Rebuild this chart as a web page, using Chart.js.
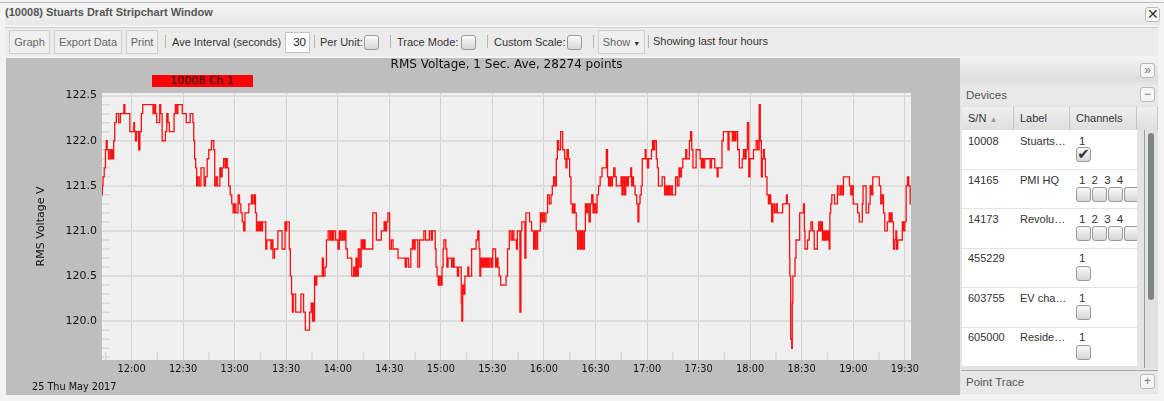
<!DOCTYPE html>
<html>
<head>
<meta charset="utf-8">
<title>Stripchart</title>
<script src="https://cdn.jsdelivr.net/npm/chart.js@4/dist/chart.umd.min.js"></script>
<style>
html, body { margin: 0; padding: 0; background: #f3f3f3; overflow: hidden; }
body { width: 1164px; height: 401px; position: relative; font: 11px "Liberation Sans", Arial, sans-serif; color: #333; }
.a { position: absolute; white-space: nowrap; }
.top { left: 0; top: 2px; width: 1164px; height: 1px; background: #bdbdbd; }
.bar { left: 5px; top: 4px; width: 1155px; height: 21px; background: linear-gradient(#f6f6f6, #e8e8e8); }
.caption { left: 5px; top: 6px; font-weight: bold; font-size: 11px; color: #555; }
.tools { left: 5px; top: 27px; width: 1153px; height: 28px; background: #ebebeb; border-top: 1px solid #d0d0d0; }
.btn { height: 22px; line-height: 22px; top: 30px; background: #efefef; border: 1px solid #cfcfcf; color: #666; text-align: center; box-sizing: content-box; }
.lbl { top: 36px; color: #333; }
.sep { top: 35px; width: 1px; height: 13px; background: #b5b5b5; }
.box { width: 13px; height: 13px; border: 1px solid #9a9a9a; border-radius: 3px; background: linear-gradient(#fafafa, #d8d8d8); }
.plotbg { left: 6px; top: 58px; width: 954px; height: 337px; background: #bebebe; }
#swatch { left: 152px; top: 75px; width: 101px; height: 12px; line-height: 12px; background: #ff0000; color: #111; text-align: center; font: 11px/12px "DejaVu Sans", sans-serif; }
#datestamp { left: 32px; top: 381px; font: 9.7px "DejaVu Sans", sans-serif; color: #111; }
canvas { position: absolute; left: 7px; top: 57px; }
.panel { left: 960px; top: 58px; width: 198px; height: 336px; background: #e4e4e4; }
.phead { left: 960px; top: 58px; width: 198px; height: 24px; background: linear-gradient(#f2f2f2, #dcdcdc); }
.hd { left: 961px; width: 197px; background: #e8e8e8; height: 22px; }
.hdt { left: 966px; color: #555; font-size: 11.5px; }
.ic { width: 13px; height: 13px; border: 1px solid #b9b9b9; border-radius: 3px; background: #f6f6f6; color: #777; text-align: center; line-height: 12px; font-size: 12px; }
.th { top: 107px; height: 23px; line-height: 23px; background: linear-gradient(#f0f0f0, #dedede); border-right: 1px solid #c6c6c6; padding-left: 6px; box-sizing: border-box; color: #333; }
.row { left: 962px; width: 175px; background: #fff; }
.cell { color: #333; }
.chn { color: #333; font-size: 11.5px; }
.scroll { left: 1144px; top: 130px; width: 14px; height: 238px; background: #e2e2e2; border-left: 1px solid #9a9a9a; box-sizing: border-box; }
.thumb { left: 1148px; top: 133px; width: 6px; height: 167px; background: #7f8583; border-radius: 3px; }
.cb { width: 13px; height: 13px; border: 1px solid #9a9a9a; border-radius: 3px; background: linear-gradient(#f8f8f8, #d6d6d6); }
</style>
</head>
<body>
<div class="a top"></div>
<div class="a bar"></div>
<div class="a caption">(10008) Stuarts Draft Stripchart Window</div>
<div class="a ic" style="left:1145px;top:7px;color:#333;font-size:14px">&#10005;</div>
<div class="a tools"></div>
<div class="a btn" style="left:9px;width:39px">Graph</div>
<div class="a btn" style="left:54px;width:66px">Export Data</div>
<div class="a btn" style="left:126px;width:30px">Print</div>
<div class="a sep" style="left:165px"></div>
<div class="a lbl" style="left:172px">Ave Interval (seconds)</div>
<div class="a" style="left:285px;top:32px;width:23px;height:19px;line-height:19px;background:#fff;border:1px solid #c4c4c4;text-align:right;color:#222;font-size:11.5px"><span style="padding-right:3px">30</span></div>
<div class="a sep" style="left:314px"></div>
<div class="a lbl" style="left:320px">Per Unit:</div>
<div class="a box" style="left:364px;top:35px"></div>
<div class="a sep" style="left:390px"></div>
<div class="a lbl" style="left:397px">Trace Mode:</div>
<div class="a box" style="left:461px;top:35px"></div>
<div class="a sep" style="left:487px"></div>
<div class="a lbl" style="left:494px">Custom Scale:</div>
<div class="a box" style="left:567px;top:35px"></div>
<div class="a sep" style="left:593px"></div>
<div class="a btn" style="left:598px;width:45px">Show <span style="font-size:7px;color:#333">&#9660;</span></div>
<div class="a sep" style="left:648px"></div>
<div class="a lbl" style="left:653px;top:35px">Showing last four hours</div>

<div class="a plotbg"></div>
<canvas id="chart" width="951" height="338"></canvas>
<div class="a" id="swatch">10008 Ch 1</div>
<div class="a" id="datestamp">25 Thu May 2017</div>

<div class="a panel"></div>
<div class="a phead"></div>
<div class="a ic" style="left:1140px;top:63px">&raquo;</div>
<div class="a hd" style="top:84px"></div>
<div class="a hdt" style="top:89px">Devices</div>
<div class="a ic" style="left:1140px;top:87px">&minus;</div>
<div class="a th" style="left:962px;width:52px">S/N <span style="font-size:8px;color:#999">&#9650;</span></div>
<div class="a th" style="left:1015px;width:55px;padding-left:5px">Label</div>
<div class="a th" style="left:1070px;width:67px">Channels</div>
<div class="a th" style="left:1137px;width:21px"></div>

<div class="a row" style="top:130px;height:39px"></div>
<div class="a cell" style="left:968px;top:135px">10008</div>
<div class="a cell" style="left:1020px;top:135px">Stuarts&hellip;</div>
<div class="a chn" style="left:1079px;top:135px">1</div>
<div class="a cb" style="left:1076px;top:147px;font:bold 15px/13px 'DejaVu Sans';color:#333;text-align:center">&#10004;</div>

<div class="a row" style="top:170px;height:38px"></div>
<div class="a cell" style="left:968px;top:174px">14165</div>
<div class="a cell" style="left:1020px;top:174px">PMI HQ</div>
<div class="a chn" style="left:1079px;top:174px;word-spacing:3px">1 2 3 4</div>
<div class="a cb" style="left:1076px;top:187px"></div>
<div class="a cb" style="left:1092px;top:187px"></div>
<div class="a cb" style="left:1108px;top:187px"></div>
<div class="a cb" style="left:1124px;top:187px;width:12px;border-right:0;border-radius:3px 0 0 3px"></div>

<div class="a row" style="top:209px;height:39px"></div>
<div class="a cell" style="left:968px;top:213px">14173</div>
<div class="a cell" style="left:1020px;top:213px">Revolu&hellip;</div>
<div class="a chn" style="left:1079px;top:213px;word-spacing:3px">1 2 3 4</div>
<div class="a cb" style="left:1076px;top:226px"></div>
<div class="a cb" style="left:1092px;top:226px"></div>
<div class="a cb" style="left:1108px;top:226px"></div>
<div class="a cb" style="left:1124px;top:226px;width:12px;border-right:0;border-radius:3px 0 0 3px"></div>

<div class="a row" style="top:249px;height:38px"></div>
<div class="a cell" style="left:968px;top:252px">455229</div>
<div class="a chn" style="left:1079px;top:252px">1</div>
<div class="a cb" style="left:1076px;top:266px"></div>

<div class="a row" style="top:288px;height:39px"></div>
<div class="a cell" style="left:968px;top:292px">603755</div>
<div class="a cell" style="left:1020px;top:292px">EV cha&hellip;</div>
<div class="a chn" style="left:1079px;top:292px">1</div>
<div class="a cb" style="left:1076px;top:305px"></div>

<div class="a row" style="top:328px;height:38px"></div>
<div class="a cell" style="left:968px;top:331px">605000</div>
<div class="a cell" style="left:1020px;top:331px">Reside&hellip;</div>
<div class="a chn" style="left:1079px;top:331px">1</div>
<div class="a cb" style="left:1076px;top:345px"></div>

<div class="a scroll"></div>
<div class="a thumb"></div>
<div class="a hd" style="top:370px;border-top:1px solid #aaa"></div>
<div class="a hdt" style="top:376px">Point Trace</div>
<div class="a ic" style="left:1140px;top:374px">+</div>

<script>
const yTicks = [120, 120.5, 121, 121.5, 122, 122.5];
const yMinorTicks = [119.6, 119.7, 119.8, 119.9, 120.1, 120.2, 120.3, 120.4, 120.6, 120.7, 120.8, 120.9, 121.1, 121.2, 121.3, 121.4, 121.6, 121.7, 121.8, 121.9, 122.1, 122.2, 122.3, 122.4];
const xTicks = [0, 30, 60, 90, 120, 150, 180, 210, 240, 270, 300, 330, 360, 390, 420, 450];
const xMinorTicks = [-15, 15, 45, 75, 105, 135, 165, 195, 225, 255, 285, 315, 345, 375, 405, 435];
const xTickLabels = ['12:00', '12:30', '13:00', '13:30', '14:00', '14:30', '15:00', '15:30', '16:00', '16:30', '17:00', '17:30', '18:00', '18:30', '19:00', '19:30'];

// minutes after 12:00
const minutes = [
  -17.2, -16.8, -16.4, -15.4, -15, -14.5, -13.9, -12.9, -12.1, -11.6, -11, -10.6, -10.2, -9.4, -8.3, -6.7, -6.3, -4.8, -4.2, -3.6,
  -1.3, -0.7, 1.1, 1.5, 2, 2.6, 3.2, 3.8, 4.4, 5.3, 6.1, 6.9, 12.3, 12.7, 13.7, 14.3, 15, 16.2, 16.6, 17.4,
  18.2, 19.3, 20.1, 20.9, 21.6, 22.4, 24.4, 25.1, 25.9, 26.7, 27.2, 29.2, 29.8, 31.6, 32.1, 33.7, 34.5, 35.4, 36, 36.4,
  37, 37.6, 38.2, 38.9, 39.9, 40.9, 41.8, 42.6, 43.4, 44.6, 45.3, 47.7, 48, 48.8, 49.6, 50.4, 51.2, 51.6, 52.3, 53.1,
  54.1, 54.9, 55.4, 56, 57, 57.8,
  58.8, 59.4, 60.4, 61, 61.7, 62.3, 63.3, 63.9, 64.9, 65.6, 66.4, 68, 68.5, 69.5, 70.1, 71.1, 71.8, 72.4, 73, 74,
  74.6, 75.3, 75.9, 76.5, 77.9, 78.3, 79.2, 80.8, 81.4, 81.9, 82.7, 83.7, 84.7, 85.6, 87.2, 88, 88.9, 89.7, 90.1, 90.5,
  91.5, 92, 92.8, 93.4, 93.8, 94.4, 95.1, 95.9, 98.3, 98.8, 99.6, 100.6, 101.6, 103.1, 104.1, 105, 105.6, 106, 106.4, 106.6,
  107.6, 108, 110.9, 111.1, 112.2, 113, 113.8, 115, 115.7, 116.5, 117.3, 117.9, 119.6, 120.6, 121.2, 122, 122.9, 123.5, 124.5, 125,
  126.2, 127.4, 128.9, 129.7, 130.3, 130.9, 131.5, 132.4, 133.2, 134, 134.8, 135.5, 136.3, 140, 140.8, 142, 142.9, 144.9, 145.8, 146.8,
  147.2, 148.2, 148.7, 149.7, 150.7, 151.7, 152.6, 154.6, 155.5, 158.8, 159.6, 160.4, 161.9, 163.1, 163.9, 164.7, 165.4, 166.2, 167, 168.2,
  169.7, 170.5, 171.7, 173, 173.6, 174, 174.8, 175.3, 176.5, 176.9, 177.5, 178.1, 178.8, 179.6, 180.4, 181, 181.6, 181.9, 182.7, 183.1,
  183.9, 184.5, 185.8, 186.6, 187.4, 188, 189.3, 189.9, 190.7, 191.7, 192, 192.4, 193, 193.6, 194.4, 195.5, 195.9, 196.7, 197.5, 198.3,
  200, 201, 201.9, 202.5, 202.9, 203.5, 204.1, 204.9, 205.4, 206, 206.8, 207.4, 208, 209.1, 209.7, 210.7, 211.5, 212.2, 213, 213.6,
  214.2, 215.5, 217.5, 218.4, 219.2, 220.4, 221.2, 222.1, 222.9, 223.7, 224.3, 224.7, 225.8, 226.2, 227, 227.2, 228.5, 229.3, 229.7, 231.3,
  232, 233.6, 234.4, 235.1, 235.9, 236.7, 237.5, 238.3, 239, 239.8, 240.6, 241.7, 242.5, 243.7, 244.5, 245.2, 246, 246.8, 247.6, 248,
  249.1, 250.3, 251.5, 252.6, 253, 253.8, 254.6, 255.3, 256.1, 256.9, 257.7, 258.4, 259.2, 260, 260.8, 261.6, 262.3, 263.1, 263.9, 264.3,
  265, 265.8, 266.6, 267.4, 268.2, 268.9, 269.7, 270.5, 271.3, 272.2, 273.2, 274.4, 275.9, 276.7, 277.3, 277.9, 278.6, 279.4, 280.2, 281,
  281.7, 282.5, 284.5, 285.2, 285.6, 286.4, 287.2, 288, 288.7, 289.5, 290.3, 290.7, 291.3, 291.8, 292.4, 293.6, 294.4, 295, 295.5, 296.3,
  296.9, 297.5, 298.8, 299, 299.8, 300.6, 301.2, 302.3, 302.9, 303.5, 304.1, 304.7, 305.2, 305.6, 306.4, 306.8, 308.5, 309.1, 309.9, 310.5,
  311.5, 312, 312.8, 313.4, 314.4, 315, 316.3, 316.9, 318.3, 318.8, 319.6, 320.4, 321.2, 322.3, 322.7, 323.5, 324.3, 325, 325.6, 326.4,
  327, 328.2, 328.9, 330.5, 331.3, 331.8, 332.4, 333.2, 334, 336.3, 337.1, 337.9, 339, 339.8, 340.6, 341, 341.7, 343.3, 343.9, 344.9,
  346.8, 347.4, 348, 349.3, 349.9, 350.7, 351.3, 352.2, 353.2, 354.2, 355.1, 355.7, 356.5, 357.3, 358, 358.8, 359.6, 360.2, 361.6, 362.3,
  363.1, 363.9, 364.9, 365.6, 366.2, 366.8, 367.4, 368, 368.5, 369.3, 370.3, 370.9, 371.7, 372.2, 372.8, 373.6, 374.6, 375.4, 376.2, 378.5,
  379.3, 380.9, 381.3, 382, 382.8, 382.9, 383, 383.2, 384, 384.4, 384.6, 385.1, 385.9, 386.3, 387.1, 388.6, 389, 390.6, 391.4, 391.7,
  392.1, 392.9, 393.9, 394.9, 395.8, 396.8, 397.8, 398.7, 399.5, 400.3, 401.1, 401.7, 402.4, 403, 403.8, 404.4, 405.1, 405.7, 406.3, 406.5,
  407.3, 407.7, 408.8, 409.4, 410.4, 411.2, 412.3, 413.1, 413.9, 414.7, 417.4, 418.2, 418.9, 419.5, 420.5, 422, 423, 424, 425, 425.5,
  425.9, 427.1, 427.9, 428.6, 429.4, 430.2, 431, 431.7, 434.7, 435.6, 436.4, 437.2, 438, 438.7, 439.5, 440.1, 440.7, 441.1, 441.8, 442.2,
  443, 443.8, 444.6, 445, 445.5, 446.3, 446.9, 448.3, 448.8, 449.6, 450.4, 451.2, 451.9, 452.7, 453.5
];

const voltage = [
  121.4, 121.5, 121.6, 121.7, 121.9, 122, 121.9, 121.8, 121.9, 121.8, 121.9, 121.8, 122, 122.2, 122.3, 122.2, 122.3, 122.3, 122.4, 122.3,
  122.3, 122.1, 122.1, 122.2, 122.1, 122, 122.1, 122.1, 121.9, 122.1, 122.3, 122.4, 122.4, 122.3, 122.4, 122.3, 122.2, 122.2, 122.4, 122.3,
  122, 122, 122.1, 122.3, 122.2, 122.1, 122.1, 122.3, 122.4, 122.3, 122.4, 122.4, 122.3, 122.3, 122.2, 122.2, 122.3, 122.3, 122.2, 122,
  121.8, 121.7, 121.5, 121.6, 121.5, 121.7, 121.7, 121.5, 121.6, 121.8, 121.9, 122, 121.9, 121.5, 121.6, 121.5, 121.5, 121.7, 121.6, 121.7,
  121.8, 121.7, 121.8, 121.7, 121.5, 121.4,
  121.3, 121.2, 121.3, 121.2, 121.2, 121.4, 121.3, 121.2, 121.1, 121, 121.2, 121.2, 121.3, 121.3, 121.4, 121.3, 121.4, 121.2, 121, 121.1,
  121, 121.1, 121, 121.1, 121.1, 120.8, 120.9, 120.9, 120.8, 120.9, 120.7, 120.8, 120.8, 121, 121, 120.8, 120.8, 121.1, 121, 121.1,
  121.1, 120.8, 120.5, 120.3, 120.1, 120.3, 120.3, 120.1, 120.1, 120.3, 120.3, 120.1, 119.9, 119.9, 120.1, 120.2, 120, 120.2, 120, 120.5,
  120.4, 120.5, 120.5, 120.7, 120.5, 120.6, 120.9, 121, 120.9, 121, 120.9, 121, 120.9, 120.8, 121, 120.9, 121, 120.9, 121, 120.8,
  120.7, 120.7, 120.5, 120.6, 120.5, 120.7, 120.5, 120.8, 120.6, 120.9, 120.8, 120.9, 120.8, 120.8, 121.2, 121.2, 120.9, 120.9, 121, 121,
  121.1, 121, 121.1, 121.2, 120.8, 120.9, 120.8, 120.8, 120.7, 120.7, 120.6, 120.7, 120.6, 120.8, 120.9, 120.8, 120.9, 120.9, 120.6, 120.9,
  120.9, 121, 120.9, 120.9, 121, 121, 120.9, 121, 121, 120.8, 120.6, 120.5, 120.4, 120.5, 120.4, 120.6, 120.8, 120.9, 120.9, 120.8,
  120.6, 120.7, 120.7, 120.6, 120.7, 120.6, 120.6, 120.5, 120.6, 120.6, 120.2, 120, 120.4, 120.3, 120.5, 120.5, 120.6, 120.5, 120.5, 120.8,
  120.8, 120.9, 121, 120.8, 120.5, 120.7, 120.6, 120.7, 120.6, 120.7, 120.6, 120.7, 120.6, 120.7, 120.6, 120.8, 120.8, 120.6, 120.7, 120.6,
  120.5, 120.4, 120.4, 120.5, 120.8, 121, 120.9, 121, 120.9, 120.9, 120.8, 121, 121, 120.1, 121, 121.1, 121.1, 120.7, 121.2, 121.2,
  121.1, 121, 120.8, 121, 120.8, 121, 121, 121.2, 121.1, 121.2, 121.1, 121.2, 121.4, 121.3, 121.4, 121.5, 121.6, 121.5, 121.8, 122,
  121.9, 122.1, 121.9, 121.8, 121.7, 121.9, 121.8, 121.6, 121.3, 121.2, 121.3, 121.2, 121, 120.8, 121, 120.8, 121, 120.8, 121, 121.3,
  121.2, 121.3, 121.1, 121.3, 121.4, 121.2, 121.3, 121.2, 121.4, 121.5, 121.6, 121.7, 121.7, 121.9, 121.6, 121.5, 121.6, 121.5, 121.6, 121.7,
  121.6, 121.5, 121.5, 121.6, 121.4, 121.6, 121.4, 121.6, 121.5, 121.6, 121.6, 121.7, 121.5, 121.6, 121.5, 121.4, 121.3, 121.1, 121.3, 121.4,
  121.5, 121.8, 121.8, 121.9, 121.8, 121.7, 121.8, 121.8, 121.9, 122, 121.9, 122, 122, 121.8, 121.7, 121.5, 121.5, 121.6, 121.6, 121.4,
  121.5, 121.4, 121.5, 121.4, 121.5, 121.4, 121.4, 121.6, 121.5, 121.7, 121.6, 121.7, 121.8, 121.8, 121.9, 121.8, 121.8, 122, 122.1, 121.9,
  121.7, 121.7, 121.9, 121.9, 121.8, 121.7, 121.8, 121.7, 121.8, 121.8, 121.7, 121.8, 121.8, 121.7, 121.7, 121.6, 121.7, 121.7, 122, 122.1,
  122.1, 121.9, 122.1, 122.1, 122, 122.1, 122, 122.1, 121.9, 121.7, 121.7, 121.8, 121.9, 121.8, 121.9, 122.2, 121.6, 121.8, 121.8, 121.9,
  121.9, 122, 121.9, 122.4, 122, 121.6, 121.8, 121.9, 121.8, 121.6, 121.4, 121.3, 121.4, 121.3, 121.1, 121.3, 121.2, 121.3, 121.2, 121.2,
  121.3, 121.3, 121.4, 121.3, 121.3, 120.9, 120.7, 120.5, 119.8, 119.7, 120.2, 120.5, 120.5, 120.7, 120.9, 120.9, 121.2, 121.2, 121.3, 121,
  120.8, 120.8, 120.9, 121, 121.1, 121, 120.8, 120.8, 121, 121.1, 121, 121.1, 120.9, 121, 120.9, 121, 120.9, 121, 120.8, 121.2,
  121.3, 121.4, 121.4, 121.3, 121.3, 121.5, 121.4, 121.5, 121.4, 121.6, 121.6, 121.5, 121.4, 121.5, 121.3, 121.3, 121.2, 121.1, 121.1, 121.3,
  121.5, 121.5, 121.2, 121.2, 121.3, 121.5, 121.4, 121.6, 121.6, 121.5, 121.3, 121.4, 121.2, 121, 121, 121.1, 121.1, 121.2, 121.1, 121.2,
  121.1, 120.8, 120.9, 121, 120.8, 120.9, 120.9, 120.9, 121.1, 121, 121.1, 121.5, 121.6, 121.5, 121.3
];

const traceData = minutes.map((m, i) => ({ x: m, y: voltage[i] }));

const plotDecor = {
  id: 'plotDecor',
  beforeDraw(chart) {
    const { ctx, chartArea } = chart;
    ctx.save();
    ctx.fillStyle = '#f0f0f0';
    ctx.fillRect(chartArea.left, chartArea.top, chartArea.width, chartArea.height);
    ctx.restore();
  },
  beforeDatasetsDraw(chart) {
    const { ctx, chartArea, scales } = chart;
    ctx.save();
    ctx.strokeStyle = '#dadada';
    ctx.lineWidth = 1.5;
    ctx.beginPath();
    yMinorTicks.forEach(v => {
      const y = scales.y.getPixelForValue(v);
      ctx.moveTo(chartArea.left, y);
      ctx.lineTo(chartArea.left + 8, y);
    });
    xMinorTicks.forEach(v => {
      const x = scales.x.getPixelForValue(v);
      ctx.moveTo(x, chartArea.bottom);
      ctx.lineTo(x, chartArea.bottom - 8);
    });
    ctx.stroke();
    ctx.restore();
  }
};

new Chart(document.getElementById('chart'), {
  type: 'line',
  data: {
    datasets: [{
      label: '10008 Ch 1',
      data: traceData,
      borderColor: '#ff0f0f',
      borderWidth: 1.3,
      pointRadius: 0,
      stepped: 'middle'
    }]
  },
  plugins: [plotDecor],
  options: {
    responsive: false,
    animation: false,
    devicePixelRatio: 1,
    layout: { padding: { top: 0, left: 0, right: 47, bottom: 0 } },
    plugins: {
      legend: { display: false },
      tooltip: { enabled: false },
      title: {
        display: true,
        text: 'RMS Voltage, 1 Sec. Ave, 28274 points',
        color: '#111',
        fullSize: false,
        padding: { top: 1, bottom: 20.5 },
        font: { family: 'DejaVu Sans', size: 12, weight: 'normal' }
      }
    },
    scales: {
      x: {
        type: 'linear',
        min: -17.2,
        max: 453.6,
        afterBuildTicks: s => { s.ticks = xTicks.map(v => ({ value: v })); },
        afterFit: s => { s.height = 35; },
        border: { display: false },
        grid: { color: '#d2d2d2', lineWidth: 1, drawTicks: false },
        ticks: {
          autoSkip: false,
          maxRotation: 0,
          padding: 4,
          color: '#111',
          font: { family: 'DejaVu Sans', size: 9.8 },
          callback: (v, i) => xTickLabels[i]
        }
      },
      y: {
        min: 119.57,
        max: 122.53,
        afterBuildTicks: s => { s.ticks = yTicks.map(v => ({ value: v })); },
        afterFit: s => { s.width = 95; },
        border: { display: false },
        title: {
          display: true,
          text: 'RMS Voltage V',
          color: '#111',
          padding: { top: 28, bottom: 0 },
          font: { family: 'DejaVu Sans', size: 11 }
        },
        grid: { color: '#dedede', lineWidth: 2, drawTicks: false },
        ticks: {
          padding: 5,
          color: '#111',
          font: { family: 'DejaVu Sans', size: 11 },
          callback: v => v.toFixed(1)
        }
      }
    }
  }
});
</script>
</body>
</html>
